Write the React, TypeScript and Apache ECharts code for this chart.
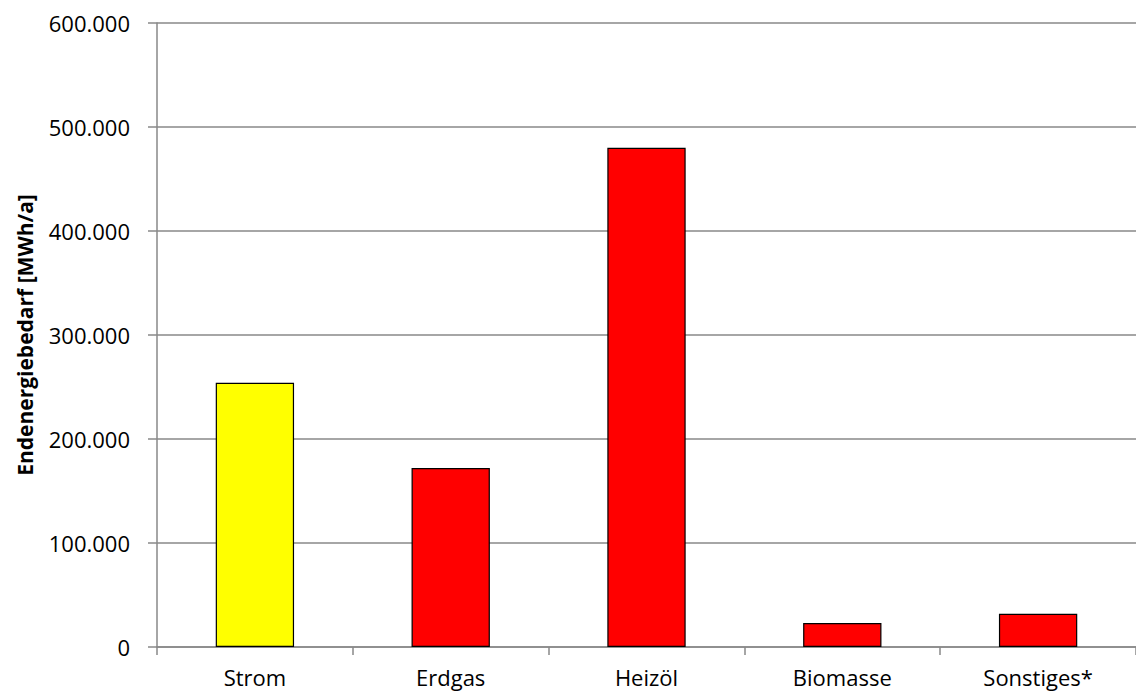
import React, { useEffect, useRef } from "react";
import * as echarts from "echarts";

const categories = ["Strom", "Erdgas", "Heizöl", "Biomasse", "Sonstiges*"];
const values = [254000, 172000, 480000, 23000, 32000];
const barColors = ["#FFFF00", "#FF0000", "#FF0000", "#FF0000", "#FF0000"];
const yTitle = "Endenergiebedarf [MWh/a]";

const fmt = (v: number) => String(v).replace(/\B(?=(\d{3})+(?!\d))/g, ".");

export default function App() {
  const ref = useRef<HTMLDivElement>(null);
  useEffect(() => {
    const chart = echarts.init(ref.current!, null, { renderer: "svg" });
    chart.setOption({
      animation: false,
      backgroundColor: "#ffffff",
      textStyle: { fontFamily: "Open Sans" },
      grid: { left: 157, top: 23, width: 988, bottom: 48, containLabel: false },
      xAxis: {
        type: "category",
        data: categories,
        axisLine: { lineStyle: { color: "#888888", width: 1.5 } },
        axisTick: { show: true, length: 8, lineStyle: { color: "#888888", width: 1.5 } },
        axisLabel: { color: "#000", fontSize: 22, margin: 19, fontFamily: "Open Sans" },
      },
      yAxis: {
        type: "value",
        min: 0,
        max: 600000,
        interval: 100000,
        name: yTitle,
        nameLocation: "middle",
        nameRotate: 90,
        nameGap: 122,
        nameTextStyle: { color: "#000", fontSize: 21, fontWeight: "bold", fontFamily: "Open Sans" },
        axisLine: { show: true, lineStyle: { color: "#888888", width: 1.5 } },
        axisTick: { show: true, length: 9, lineStyle: { color: "#888888", width: 1.5 } },
        splitLine: { show: true, lineStyle: { color: "#888888", width: 1.5 } },
        axisLabel: { color: "#000", fontSize: 22, margin: 27, formatter: (v: number) => fmt(v), fontFamily: "Open Sans" },
      },
      series: [
        {
          type: "bar",
          barWidth: "40%",
          data: values.map((v, i) => ({
            value: v,
            itemStyle: { color: barColors[i], borderColor: "#000", borderWidth: 1.2 },
          })),
        },
      ],
    });
    return () => chart.dispose();
  }, []);
  return <div ref={ref} style={{ width: 1136, height: 695, position: "absolute", left: 0, top: 0 }} />;
}
